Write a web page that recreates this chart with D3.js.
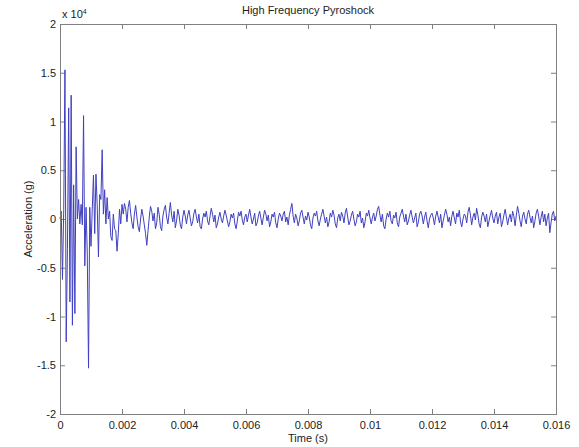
<!DOCTYPE html>
<html>
<head>
<meta charset="utf-8">
<script src="https://cdn.jsdelivr.net/npm/d3@7"></script>
<style>
  html, body { margin: 0; padding: 0; background: #fff; }
  svg { display: block; }
  text { font-family: "Liberation Sans", Arial, sans-serif; }
</style>
</head>
<body>
<svg id="chart" width="579" height="447"></svg>
<script>
// Pyroshock acceleration record, sampled every 40 microseconds.
// Values are in units of 10^4 g.
const sampleStep = 0.00004;
const accel = [
  0.0, 0.08, -0.62, 0.1, 1.53, -1.26, -0.3, 1.14, -0.85, 1.27,
  -1.09, 0.35, -0.97, 0.74, 0.0, 0.2, -0.05, 0.15, -0.06, 1.06,
  -0.48, 0.12, -0.35, -1.53, 0.12, -0.28, 0.1, 0.45, -0.15, 0.46,
  0.15, -0.39, 0.25, 0.2, 0.71, 0.05, 0.3, -0.05, 0.22, 0.0,
  0.08, -0.18, -0.22, 0.05, -0.1, -0.12, -0.33, -0.15, 0.1, -0.05,
  0.15,
  0.05, 0.16, 0.1, -0.03, 0.12, 0.19, 0.06, -0.04, -0.1, 0.05,
  0.14, 0.02, -0.08, -0.13, 0.0, 0.1, 0.03, -0.06, -0.15, -0.27,
  -0.12, 0.02, 0.13, 0.08, -0.02, 0.06, -0.1, -0.04, 0.12, 0.05,
  -0.08, -0.12, 0.03, 0.1, 0.14, 0.02, -0.05, 0.06, 0.17, 0.04,
  -0.03, 0.08, -0.09, -0.02, 0.1, 0.04, -0.06, -0.1, 0.02, 0.09,
  0.03, -0.05, 0.04, 0.09, 0.01, -0.07, -0.03, 0.06, 0.1, 0.02,
  -0.04, 0.05, -0.08, -0.1, 0.0, 0.06, 0.02, 0.08, -0.02, -0.06,
  0.03, 0.11, 0.05, -0.03, 0.04, -0.09, -0.05, 0.02, 0.07, 0.0,
  -0.04, 0.03, 0.09, 0.04, -0.02, -0.08, -0.03, 0.05, 0.01, 0.06,
  -0.05, -0.1, -0.02, 0.07, 0.03, 0.08, -0.01, -0.06, 0.02, 0.05,
  -0.03, 0.04, 0.1, 0.02, -0.05, 0.0, 0.06, -0.07, -0.04, 0.03,
  0.08, 0.01, -0.06, 0.02, 0.09, 0.05, -0.02, 0.04, -0.08, -0.03,
  0.05, 0.02, 0.07, -0.04, -0.09, 0.0, 0.06, 0.03, -0.02, 0.05,
  0.08, -0.03, 0.02, -0.06, 0.04, 0.1, 0.16, 0.03, -0.04, 0.05,
  0.01, -0.07, -0.02, 0.06, 0.09, 0.02, -0.05, 0.03, -0.01, 0.07,
  0.02, -0.06, -0.1, 0.01, 0.06, 0.03, 0.08, -0.02, -0.07, 0.0,
  0.05, 0.1, 0.03, -0.04, 0.02, -0.08, -0.03, 0.06, 0.02, 0.09,
  0.04, -0.05, -0.09, 0.01, 0.05, -0.02, 0.07, 0.03, -0.04, 0.06,
  0.11, 0.02, -0.06, -0.02, 0.04, 0.08, 0.0, -0.07, -0.03, 0.05,
  0.02, 0.08, -0.04, 0.01, -0.09, -0.03, 0.06, 0.03, 0.09, 0.01,
  -0.05, 0.02, 0.06, -0.02, 0.03, 0.1, 0.13, 0.04, -0.03, 0.05,
  -0.07, -0.1, 0.0, 0.06, 0.02, 0.08, -0.02, -0.05, 0.04, 0.01,
  0.07, -0.04, -0.08, 0.02, 0.06, 0.1, 0.03, -0.03, 0.05, -0.06,
  -0.02, 0.04, 0.09, 0.02, -0.04, 0.01, 0.06, -0.08, -0.03, 0.05,
  0.08, 0.03, -0.05, 0.02, 0.07, -0.02, -0.09, 0.0, 0.04, 0.06,
  0.01, -0.06, 0.03, 0.08, 0.02, -0.04, 0.05, -0.09, -0.02, 0.04,
  0.1, 0.05, -0.03, 0.02, -0.07, 0.03, 0.08, 0.01, -0.05, 0.06,
  0.02, 0.09, -0.03, -0.08, 0.0, 0.05, 0.03, -0.04, 0.07, 0.12,
  0.04, -0.06, 0.02, 0.06, -0.01, 0.11, 0.04, -0.05, -0.09, 0.02,
  0.07, 0.03, -0.03, 0.05, -0.08, -0.02, 0.04, 0.09, 0.01, -0.04,
  0.03, 0.07, -0.05, 0.02, 0.06, -0.08, -0.03, 0.04, 0.1, 0.02,
  -0.06, 0.01, 0.05, -0.03, 0.08, 0.03, -0.07, 0.04, 0.13, 0.06,
  -0.02, -0.08, 0.03, 0.07, 0.0, -0.05, 0.05, 0.09, 0.02, -0.04,
  0.03, -0.09, -0.02, 0.06, 0.1, 0.03, -0.06, 0.02, 0.08, -0.03,
  0.05, -0.07, 0.01, 0.06, -0.14, -0.04, 0.05, 0.08, -0.02, 0.03
];
const xTicks = [0, 0.002, 0.004, 0.006, 0.008, 0.01, 0.012, 0.014, 0.016];
const yTicks = [-2, -1.5, -1, -0.5, 0, 0.5, 1, 1.5, 2];
const titleText = "High Frequency Pyroshock";
const xLabel = "Time (s)";
const yLabel = "Acceleration (g)";

const W = 579, H = 447;
const plot = { left: 60, top: 24, right: 556, bottom: 414 };
const axisGrey = "#808080";
const textColor = "#222";

const svg = d3.select("#chart");
svg.append("rect").attr("width", W).attr("height", H).attr("fill", "#fff");

const x = d3.scaleLinear().domain([0, 0.016]).range([plot.left, plot.right]);
const y = d3.scaleLinear().domain([-2, 2]).range([plot.bottom, plot.top]);

const fmt = d => d === 0 ? "0" : String(+d.toFixed(4));

function styleAxis(g) {
  g.select(".domain").remove();
  g.selectAll(".tick line").attr("stroke", axisGrey);
  g.selectAll(".tick text")
    .attr("fill", textColor)
    .style("font-size", "11px")
    .style("font-family", "'Liberation Sans', Arial, sans-serif");
}

// bottom / left axes with labels, ticks pointing inward
svg.append("g")
  .attr("transform", `translate(0,${plot.bottom})`)
  .call(d3.axisBottom(x).tickValues(xTicks).tickFormat(fmt).tickSize(-5).tickPadding(7))
  .call(styleAxis);

svg.append("g")
  .attr("transform", `translate(${plot.left},0)`)
  .call(d3.axisLeft(y).tickValues(yTicks).tickFormat(fmt).tickSize(-5).tickPadding(4))
  .call(styleAxis);

// top / right axes, ticks only
svg.append("g")
  .attr("transform", `translate(0,${plot.top})`)
  .call(d3.axisTop(x).tickValues(xTicks).tickFormat("").tickSize(-5))
  .call(styleAxis);

svg.append("g")
  .attr("transform", `translate(${plot.right},0)`)
  .call(d3.axisRight(y).tickValues(yTicks).tickFormat("").tickSize(-5))
  .call(styleAxis);

// signal trace
const line = d3.line()
  .x((d, i) => x(i * sampleStep))
  .y(d => y(d));

svg.append("path")
  .datum(accel)
  .attr("fill", "none")
  .attr("stroke", "#4040c0")
  .attr("stroke-width", 1)
  .attr("stroke-linejoin", "round")
  .attr("d", line);

// axes box
svg.append("rect")
  .attr("x", plot.left + 0.5).attr("y", plot.top + 0.5)
  .attr("width", plot.right - plot.left).attr("height", plot.bottom - plot.top)
  .attr("fill", "none").attr("stroke", axisGrey).attr("stroke-width", 1);

// exponent marker
const expo = svg.append("text")
  .attr("x", plot.left + 2).attr("y", plot.top - 6)
  .attr("fill", textColor).style("font-size", "11px");
expo.append("tspan").text("x 10");
expo.append("tspan").attr("dy", -4).style("font-size", "7px").text("4");

// title and axis labels
svg.append("text")
  .attr("x", (plot.left + plot.right) / 2).attr("y", 14)
  .attr("text-anchor", "middle").attr("fill", textColor)
  .style("font-size", "11px").text(titleText);

svg.append("text")
  .attr("x", (plot.left + plot.right) / 2).attr("y", 442)
  .attr("text-anchor", "middle").attr("fill", textColor)
  .style("font-size", "11px").text(xLabel);

svg.append("text")
  .attr("transform", `translate(32,${(plot.top + plot.bottom) / 2}) rotate(-90)`)
  .attr("text-anchor", "middle").attr("fill", textColor)
  .style("font-size", "11px").text(yLabel);
</script>
</body>
</html>
